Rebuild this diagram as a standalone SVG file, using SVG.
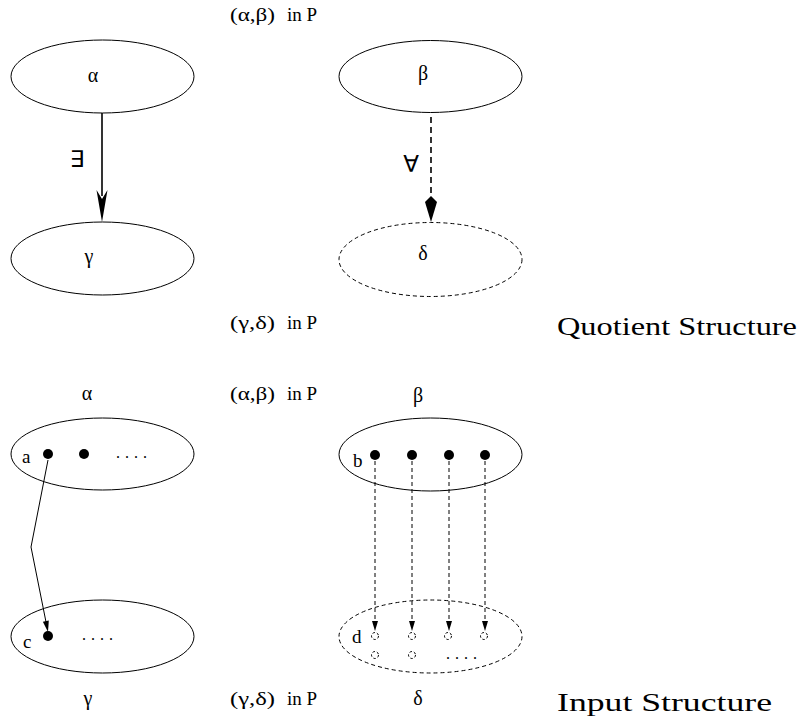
<svg xmlns="http://www.w3.org/2000/svg" width="798" height="726" viewBox="0 0 798 726">
<style>
  .t { font-family: "Liberation Serif", "Times New Roman", serif; font-size: 19px; fill: #000; }
  .g { font-family: "Liberation Serif", "Times New Roman", serif; font-size: 20px; fill: #000; text-anchor: middle; }
  .dots { font-family: "Liberation Serif", "Times New Roman", serif; font-size: 16px; fill: #000; letter-spacing: 5px; }
  .big { font-family: "Liberation Serif", "Times New Roman", serif; font-size: 25px; fill: #000; }
  .q { font-family: "DejaVu Sans", sans-serif; font-size: 23px; fill: #000; text-anchor: middle; }
  .solid { fill: none; stroke: #000; stroke-width: 1; }
  .dashed { fill: none; stroke: #000; stroke-width: 1; stroke-dasharray: 4 3; }
  .dot { fill: #000; }
  .hole { fill: none; stroke: #000; stroke-width: 1; stroke-dasharray: 2.5 2; }
</style>
<rect width="798" height="726" fill="#fff"/>

<!-- Quotient structure nodes -->
<g id="q-alpha">
  <ellipse class="solid" cx="102.5" cy="76.5" rx="91.5" ry="36.5"/>
  <text class="g" x="93" y="82">α</text>
</g>
<g id="q-gamma">
  <ellipse class="solid" cx="102.5" cy="258.5" rx="91.5" ry="36.5"/>
  <text class="g" x="89" y="263">γ</text>
</g>
<g id="q-beta">
  <ellipse class="solid" cx="430.5" cy="76.5" rx="91.5" ry="36"/>
  <text class="g" x="423" y="80">β</text>
</g>
<g id="q-delta">
  <ellipse class="dashed" cx="430.5" cy="259.5" rx="91.5" ry="37"/>
  <text class="g" x="423" y="260">δ</text>
</g>

<!-- Input structure nodes -->
<g id="i-alpha">
  <ellipse class="solid" cx="102.5" cy="454" rx="91.5" ry="36"/>
  <text class="t" x="22" y="463">a</text>
  <circle class="dot" cx="48" cy="454" r="5"/>
  <circle class="dot" cx="84" cy="454" r="5"/>
  <text class="dots" x="116" y="458">....</text>
</g>
<g id="i-gamma">
  <ellipse class="solid" cx="102.5" cy="636.5" rx="91.5" ry="36.5"/>
  <text class="t" x="23" y="648">c</text>
  <circle class="dot" cx="48" cy="636" r="5"/>
  <text class="dots" x="82" y="640">....</text>
</g>
<g id="i-beta">
  <ellipse class="solid" cx="430.5" cy="454.5" rx="91.5" ry="36.5"/>
  <text class="t" x="353" y="467">b</text>
  <circle class="dot" cx="375" cy="455" r="5"/>
  <circle class="dot" cx="412" cy="455" r="5"/>
  <circle class="dot" cx="449" cy="455" r="5"/>
  <circle class="dot" cx="485" cy="455" r="5"/>
</g>
<g id="i-delta">
  <ellipse class="dashed" cx="430.5" cy="636.5" rx="91.5" ry="36.5"/>
  <text class="t" x="352" y="643">d</text>
  <circle class="hole" cx="375" cy="636" r="3.5"/>
  <circle class="hole" cx="412" cy="636" r="3.5"/>
  <circle class="hole" cx="448" cy="636" r="3.5"/>
  <circle class="hole" cx="484" cy="636" r="3.5"/>
  <circle class="hole" cx="375" cy="655" r="3.5"/>
  <circle class="hole" cx="412" cy="655" r="3.5"/>
  <text class="dots" x="446" y="659">....</text>
</g>

<!-- Connectors -->
<g id="connectors">
  <line x1="102" y1="113" x2="102" y2="196" stroke="#000" stroke-width="1.6"/>
  <polygon points="96.5,190 102,222 107.5,190 102,199" fill="#000"/>
  <line x1="431" y1="117" x2="431" y2="198" stroke="#000" stroke-width="1.6" stroke-dasharray="6 4"/>
  <polygon points="431,196 425,202 431,222 437,202" fill="#000"/>

  <polyline class="solid" points="48,460 31,547 46,622"/>
  <polygon points="48,632 42.9,621.8 48.8,620.6" fill="#000"/>

  <line class="dashed" x1="375" y1="461" x2="375" y2="623"/>
  <polygon points="372,621 378,621 375,631" fill="#000"/>
  <line class="dashed" x1="412" y1="461" x2="412" y2="623"/>
  <polygon points="409,621 415,621 412,631" fill="#000"/>
  <line class="dashed" x1="449" y1="461" x2="449" y2="623"/>
  <polygon points="446,621 452,621 449,631" fill="#000"/>
  <line class="dashed" x1="485" y1="461" x2="485" y2="623"/>
  <polygon points="482,621 488,621 485,631" fill="#000"/>
</g>

<!-- Quantifier labels -->
<text class="q" x="77" y="167">∃</text>
<text class="q" x="411" y="172">∀</text>

<!-- Free labels -->
<text class="t" y="21"><tspan x="230" textLength="45" lengthAdjust="spacingAndGlyphs">(α,β)</tspan><tspan x="287">in P</tspan></text>
<text class="t" y="329"><tspan x="230" textLength="45" lengthAdjust="spacingAndGlyphs">(γ,δ)</tspan><tspan x="287">in P</tspan></text>
<text class="t" y="400"><tspan x="230" textLength="45" lengthAdjust="spacingAndGlyphs">(α,β)</tspan><tspan x="287">in P</tspan></text>
<text class="t" y="705"><tspan x="230" textLength="45" lengthAdjust="spacingAndGlyphs">(γ,δ)</tspan><tspan x="287">in P</tspan></text>
<text class="g" x="87" y="400">α</text>
<text class="g" x="418" y="402">β</text>
<text class="g" x="88" y="705">γ</text>
<text class="g" x="418" y="705">δ</text>

<text class="big" x="557" y="335" textLength="240" lengthAdjust="spacingAndGlyphs">Quotient Structure</text>
<text class="big" x="557" y="711" textLength="215" lengthAdjust="spacingAndGlyphs">Input Structure</text>
</svg>
